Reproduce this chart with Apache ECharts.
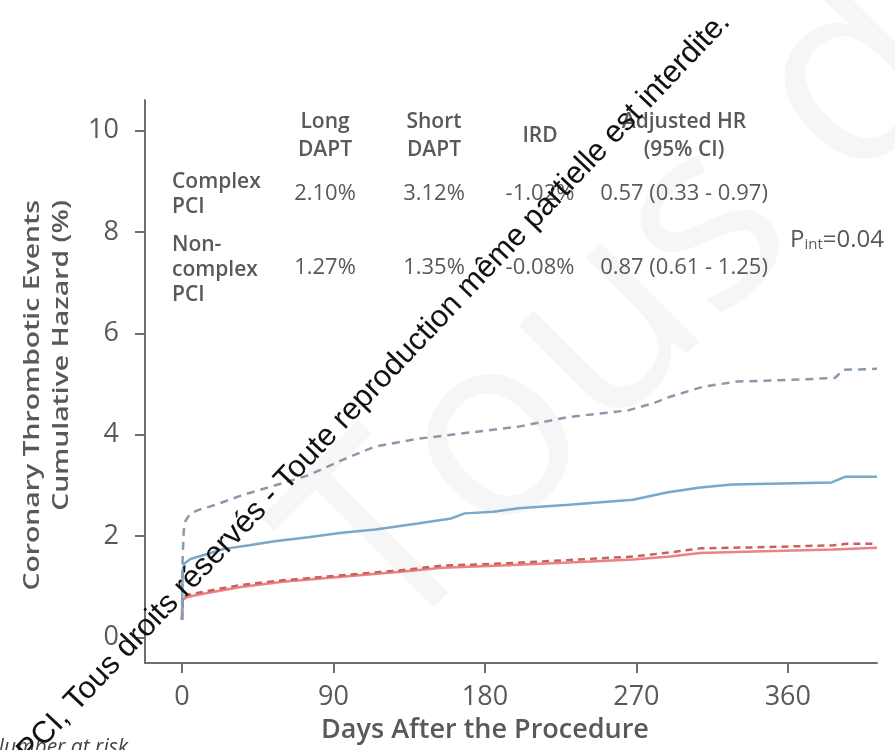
<!DOCTYPE html>
<html>
<head>
<meta charset="utf-8">
<script src="https://cdn.jsdelivr.net/npm/echarts@6/dist/echarts.min.js"></script>
<style>
  html, body { margin: 0; padding: 0; background: #ffffff; }
  #chart { width: 895px; height: 750px; }
</style>
</head>
<body>
<div id="chart"></div>
<script>
// Cumulative hazard (%) of coronary thrombotic events, by days after the procedure

// Short DAPT, complex PCI (dashed blue)
const shortComplexDays = [0, 0.3, 1, 2, 5, 10, 20, 35, 55, 75, 95, 115, 140, 175, 200, 230, 265, 280, 290, 310, 330, 360, 388, 393, 413];
const shortComplexHaz  = [0.35, 1.5, 2.1, 2.3, 2.45, 2.52, 2.62, 2.8, 3.0, 3.2, 3.5, 3.77, 3.92, 4.06, 4.16, 4.35, 4.48, 4.62, 4.75, 4.95, 5.05, 5.08, 5.12, 5.28, 5.3];

// Long DAPT, complex PCI (solid blue)
const longComplexDays = [0, 0.3, 1, 5, 15, 25, 40, 55, 75, 95, 115, 140, 160, 168, 185, 200, 230, 268, 288, 308, 327, 386, 394, 413];
const longComplexHaz  = [0.35, 1.2, 1.45, 1.55, 1.65, 1.75, 1.82, 1.9, 1.98, 2.07, 2.13, 2.25, 2.35, 2.45, 2.48, 2.55, 2.62, 2.72, 2.86, 2.96, 3.02, 3.06, 3.17, 3.17];

// Long DAPT, non-complex PCI (solid red)
const longNonComplexDays = [0, 0.5, 3, 15, 35, 60, 95, 130, 155, 190, 230, 268, 290, 308, 340, 387, 413];
const longNonComplexHaz  = [0.35, 0.75, 0.8, 0.88, 1.0, 1.1, 1.2, 1.3, 1.38, 1.42, 1.48, 1.54, 1.6, 1.67, 1.7, 1.74, 1.77];

// Short DAPT, non-complex PCI (dashed red)
const shortNonComplexDays = [0, 0.5, 3, 15, 35, 60, 95, 130, 155, 190, 230, 268, 290, 308, 340, 387, 395, 413];
const shortNonComplexHaz  = [0.35, 0.78, 0.84, 0.92, 1.04, 1.13, 1.23, 1.33, 1.42, 1.46, 1.53, 1.6, 1.68, 1.76, 1.78, 1.82, 1.85, 1.85];

const xTicks = [0, 90, 180, 270, 360];
const yTicks = [0, 2, 4, 6, 8, 10];

// Inset table
const colHeaders = ['Long\nDAPT', 'Short\nDAPT', 'IRD', 'Adjusted HR\n(95% CI)'];
const rowLabels = ['Complex\nPCI', 'Non-\ncomplex\nPCI'];
const longDapt = ['2.10%', '1.27%'];
const shortDapt = ['3.12%', '1.35%'];
const ird = ['-1.02%', '-0.08%'];
const adjustedHR = ['0.57 (0.33 - 0.97)', '0.87 (0.61 - 1.25)'];
const pInteraction = '0.04';

const xTitle = 'Days After the Procedure';
const yTitle = ['Coronary Thrombotic Events', 'Cumulative Hazard (%)'];
const notice = '© EuroPCI, Tous droits réservés - Toute reproduction même partielle est interdite.';

const zip = (xs, ys) => xs.map((x, i) => [x, ys[i]]);

const TEXT = '#58595b';
const FONT = "'Open Sans', 'Noto Sans', sans-serif";

const chart = echarts.init(document.getElementById('chart'), null, { renderer: 'canvas' });

const colX = [325, 434, 540, 684];
const rowY = [194, 268];

const graphics = [];

// faint background lettering
graphics.push({
  type: 'text', x: 430, y: 690, rotation: 45 * Math.PI / 180, z: -10,
  style: { text: 'Tous d', font: "400 260px 'Open Sans', sans-serif", fill: 'rgba(0,0,0,0.035)', align: 'left', verticalAlign: 'bottom' }
});

// y axis title (two lines, rotated, stretched along the text direction)
graphics.push({
  type: 'text', x: 48, y: 200, rotation: Math.PI / 2, scaleX: 1.35, scaleY: 1,
  style: { text: yTitle.join('\n'), font: '600 21px ' + FONT, fill: TEXT, align: 'right', verticalAlign: 'middle', lineHeight: 29 }
});
// x axis title
graphics.push({
  type: 'text', x: 485, y: 730,
  style: { text: xTitle, font: '600 27px ' + FONT, fill: TEXT, align: 'center', verticalAlign: 'middle' }
});

// table headers
colHeaders.forEach((h, i) => {
  graphics.push({
    type: 'text', x: colX[i], y: 136,
    style: { text: h, font: '600 21px ' + FONT, fill: TEXT, align: 'center', verticalAlign: 'middle', lineHeight: 28 }
  });
});
// row labels
graphics.push({ type: 'text', x: 172, y: 195,
  style: { text: rowLabels[0], font: '600 21px ' + FONT, fill: TEXT, align: 'left', verticalAlign: 'middle', lineHeight: 25 } });
graphics.push({ type: 'text', x: 172, y: 270,
  style: { text: rowLabels[1], font: '600 21px ' + FONT, fill: TEXT, align: 'left', verticalAlign: 'middle', lineHeight: 25 } });

[longDapt, shortDapt, ird, adjustedHR].forEach((col, ci) => {
  col.forEach((v, ri) => {
    graphics.push({ type: 'text', x: colX[ci], y: rowY[ri],
      style: { text: v, font: '400 22px ' + FONT, fill: TEXT, align: 'center', verticalAlign: 'middle' } });
  });
});

// interaction p-value
graphics.push({ type: 'text', x: 790, y: 240,
  style: {
    text: '{p|P}{s|int}{p|=' + pInteraction + '}',
    align: 'left', verticalAlign: 'middle',
    rich: {
      p: { font: '400 24px ' + FONT, fill: TEXT, color: TEXT },
      s: { font: '400 15px ' + FONT, fill: TEXT, color: TEXT, verticalAlign: 'bottom', padding: [10, 0, 0, 0] }
    }
  } });

// number-at-risk caption, cut at the bottom edge
graphics.push({ type: 'text', x: 128, y: 738,
  style: { text: 'Number at risk', font: 'italic 400 21px ' + FONT, fill: '#444', align: 'right', verticalAlign: 'top' } });

// diagonal copyright notice
graphics.push({
  type: 'text', x: 725, y: 17, rotation: 46.5 * Math.PI / 180, z: 100,
  style: { text: notice, font: "400 31px 'Liberation Sans', Arial, sans-serif", fill: '#111', align: 'right', verticalAlign: 'middle' }
});

const lineBase = { type: 'line', showSymbol: false, symbol: 'none', animation: false, smooth: false };

chart.setOption({
  backgroundColor: '#ffffff',
  animation: false,
  grid: { left: 145, right: 18, top: 100, bottom: 87, containLabel: false },
  xAxis: {
    type: 'value', min: -22, max: 413,
    axisLine: { show: true, onZero: false, lineStyle: { color: '#6d6e70', width: 2 } },
    axisTick: { show: true, length: 10, lineStyle: { color: '#6d6e70', width: 2 }, customValues: xTicks },
    axisLabel: { customValues: xTicks, color: TEXT, fontFamily: FONT, fontSize: 27, margin: 21 },
    splitLine: { show: false }
  },
  yAxis: {
    type: 'value', min: -0.5, max: 10.6,
    axisLine: { show: true, onZero: false, lineStyle: { color: '#6d6e70', width: 2 } },
    axisTick: { show: true, length: 10, lineStyle: { color: '#6d6e70', width: 2 }, customValues: yTicks },
    axisLabel: { customValues: yTicks, color: TEXT, fontFamily: FONT, fontSize: 27, margin: 26 },
    splitLine: { show: false }
  },
  series: [
    Object.assign({}, lineBase, { name: 'Long DAPT, non-complex PCI', data: zip(longNonComplexDays, longNonComplexHaz), lineStyle: { color: '#ec8285', width: 2.5 }, z: 2 }),
    Object.assign({}, lineBase, { name: 'Short DAPT, non-complex PCI', data: zip(shortNonComplexDays, shortNonComplexHaz), lineStyle: { color: '#c9625f', width: 2.5, type: [7, 5] }, z: 3 }),
    Object.assign({}, lineBase, { name: 'Long DAPT, complex PCI', data: zip(longComplexDays, longComplexHaz), lineStyle: { color: '#78a9ca', width: 2.5 }, z: 4 }),
    Object.assign({}, lineBase, { name: 'Short DAPT, complex PCI', data: zip(shortComplexDays, shortComplexHaz), lineStyle: { color: '#8a9aab', width: 2.5, type: [8, 6] }, z: 5 })
  ],
  graphic: { elements: graphics }
});
</script>
</body>
</html>
